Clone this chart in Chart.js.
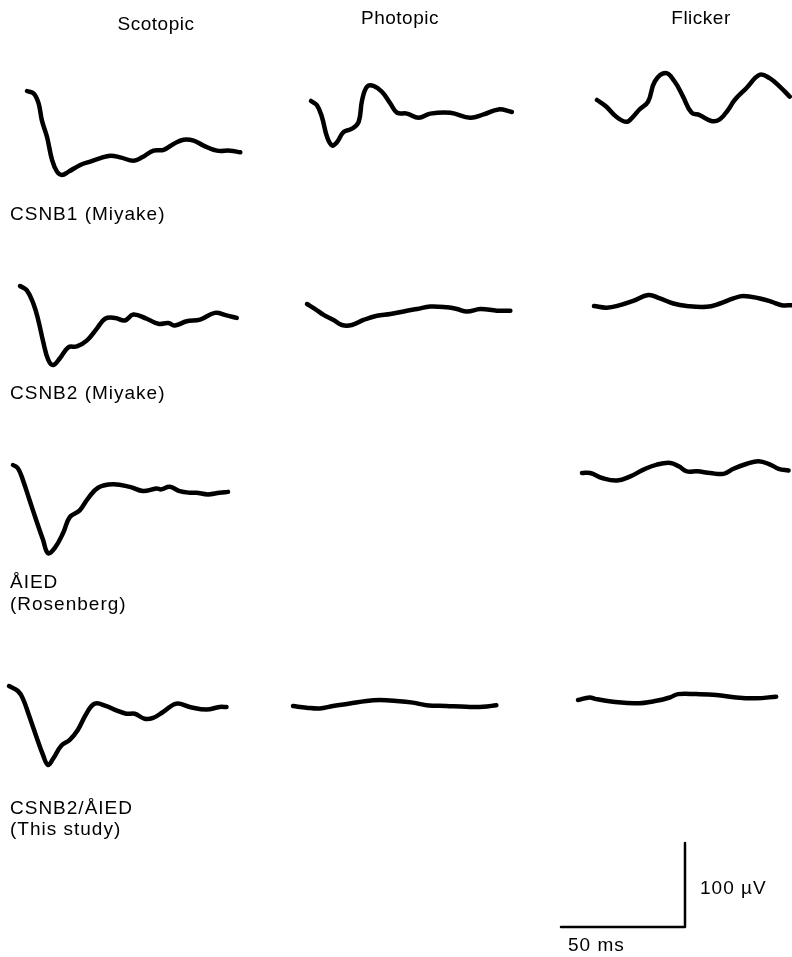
<!DOCTYPE html>
<html>
<head>
<meta charset="utf-8">
<title>ERG traces</title>
<script src="https://cdn.jsdelivr.net/npm/chart.js@4"></script>
<style>
  html, body { margin: 0; padding: 0; background: #fff; overflow: hidden; }
  body { width: 792px; height: 957px; position: relative; font-family: "Liberation Sans", Arial, sans-serif; color: #000; }
  canvas { position: absolute; }
  .lbl { position: absolute; font-size: 19px; line-height: 22px; white-space: nowrap; letter-spacing: 1px; }
  .head { letter-spacing: 0.5px; }
</style>
</head>
<body>
<script>
// === Data (time in ms from trace start, amplitude in µV relative to start) ===
const columnLabels = ['Scotopic', 'Photopic', 'Flicker'];
const rowLabels = ['CSNB1 (Miyake)', 'CSNB2 (Miyake)', 'ÅIED\n(Rosenberg)', 'CSNB2/ÅIED\n(This study)'];

// CSNB1 (Miyake)
const scotCsnb1Ms = [0, 2.7, 4.7, 6.0, 8.1, 10.1, 12.1, 14.1, 16.8, 21.5, 25.5, 29.6, 33.6, 37.6, 43.0, 46.4, 51.0, 55.1, 59.1, 63.1, 67.2, 71.2, 76.6, 81.9, 86.0];
const scotCsnb1Uv = [0, -3, -15, -35, -55, -82, -96, -100, -96, -88, -84, -80, -77, -79, -83, -79, -71, -70, -63, -58, -59, -65, -71, -71, -73];
const photCsnb1Ms = [0, 2.4, 4.4, 6.5, 8.5, 10.5, 13.1, 16.5, 19.2, 20.6, 22.6, 25.2, 28.6, 32.0, 34.7, 38.7, 43.4, 48.1, 56.2, 64.2, 69.6, 75.6, 81.0];
const photCsnb1Uv = [0, -5, -19, -43, -53, -49, -37, -33, -25, 1, 17, 18, 11, -3, -14, -15, -20, -15, -14, -20, -16, -10, -13];
const flickCsnb1Ms = [0, 3.8, 7.8, 11.9, 14.5, 17.2, 20.6, 23.3, 27.7, 31.3, 34.7, 38.1, 41.4, 46.1, 49.5, 52.8, 55.5, 60.2, 65.6, 69.6, 73.7, 77.7];
const flickCsnb1Uv = [0, -8, -20, -26, -20, -11, -2, 22, 32, 22, 4, -15, -18, -25, -23, -12, 0, 14, 30, 26, 16, 4];

// CSNB2 (Miyake)
const scotCsnb2Ms = [0, 2.7, 5.4, 7.4, 9.4, 11.4, 13.4, 16.1, 19.5, 22.9, 26.9, 30.9, 34.3, 38.3, 42.3, 45.7, 51.1, 55.8, 59.8, 62.5, 67.2, 72.6, 78.6, 83.3, 87.4];
const scotCsnb2Uv = [0, -5, -21, -41, -67, -88, -94, -86, -73, -72, -65, -51, -39, -38, -41, -34, -39, -45, -44, -47, -42, -40, -32, -35, -38];
const photCsnb2Ms = [0, 3.3, 6.7, 10.7, 14.1, 18.1, 22.8, 28.2, 33.6, 40.3, 44.4, 49.7, 56.5, 60.5, 64.5, 69.9, 76.6, 82.0];
const photCsnb2Uv = [0, -6, -13, -19, -25, -25, -19, -14, -12, -8, -6, -3, -4, -6, -9, -6, -8, -8];
const flickCsnb2Ms = [0, 5.1, 10.5, 15.8, 21.9, 26.6, 32.0, 37.4, 45.4, 50.8, 56.2, 60.2, 66.9, 71.7, 75.7, 79.7];
const flickCsnb2Uv = [0, -2, 1, 6, 13, 9, 3, 0, -1, 3, 9, 12, 9, 5, 1, 1];

// ÅIED (Rosenberg)
const scotAiedMs = [0, 2.0, 4.0, 6.7, 9.4, 12.1, 14.1, 16.8, 20.2, 22.9, 26.9, 30.2, 34.3, 40.3, 47.1, 52.4, 57.8, 59.8, 63.2, 67.2, 71.2, 73.9, 78.6, 83.3, 86.7];
const scotAiedUv = [0, -4, -18, -42, -66, -89, -105, -99, -81, -62, -54, -40, -27, -23, -26, -31, -28, -29, -26, -31, -33, -33, -35, -33, -32];
const flickAiedMs = [0, 3.3, 8.1, 14.1, 19.5, 24.8, 30.2, 35.6, 39.0, 42.3, 46.4, 51.7, 57.1, 61.1, 66.5, 71.2, 75.9, 79.3, 83.3];
const flickAiedUv = [0, 0, -6, -9, -4, 4, 10, 12, 8, 2, 2, 0, -1, 5, 11, 14, 10, 5, 3];

// CSNB2/ÅIED (This study)
const scotStudyMs = [0, 3.6, 5.6, 8.3, 11.0, 13.7, 15.7, 17.7, 21.1, 24.5, 27.8, 31.2, 34.6, 39.3, 43.3, 47.3, 50.7, 54.7, 58.1, 62.1, 67.5, 72.9, 79.6, 84.9, 87.7];
const scotStudyUv = [0, -6, -15, -37, -60, -82, -94, -87, -71, -64, -52, -33, -21, -24, -29, -33, -33, -39, -38, -31, -21, -25, -28, -25, -25];
const photStudyMs = [0, 5.4, 10.8, 16.1, 22.9, 29.6, 35.0, 41.7, 48.4, 53.8, 61.8, 69.9, 76.6, 82.0];
const photStudyUv = [0, -2, -3, 0, 3, 6, 7, 6, 4, 1, 0, -1, -1, 1];
const flickStudyMs = [0, 4.7, 7.4, 14.1, 23.5, 31.6, 37.0, 40.3, 47.7, 55.8, 63.8, 71.8, 79.9];
const flickStudyUv = [0, 3, 1, -2, -4, -1, 3, 7, 7, 6, 3, 2, 4];

// Calibration bar
const calTimeMs = [0, 50, 50];
const calAmpUv = [0, 0, 100];

// === Scale of the figure ===
const PX_PER_MS = 124 / 50;
const PX_PER_UV = 84 / 100;

// trace start positions on the page
const traces = [
  { ms: scotCsnb1Ms, uv: scotCsnb1Uv, x: 27, y: 91 },
  { ms: photCsnb1Ms, uv: photCsnb1Uv, x: 311, y: 101 },
  { ms: flickCsnb1Ms, uv: flickCsnb1Uv, x: 597, y: 100 },
  { ms: scotCsnb2Ms, uv: scotCsnb2Uv, x: 20, y: 286 },
  { ms: photCsnb2Ms, uv: photCsnb2Uv, x: 307, y: 304 },
  { ms: flickCsnb2Ms, uv: flickCsnb2Uv, x: 594, y: 306 },
  { ms: scotAiedMs, uv: scotAiedUv, x: 13, y: 465 },
  { ms: flickAiedMs, uv: flickAiedUv, x: 582, y: 473 },
  { ms: scotStudyMs, uv: scotStudyUv, x: 9, y: 686 },
  { ms: photStudyMs, uv: photStudyUv, x: 293, y: 706 },
  { ms: flickStudyMs, uv: flickStudyUv, x: 578, y: 700 }
];

function drawTrace(ms, uv, x0, y0, width, tension) {
    const padL = 12, padT = 100, h = 220;
    const left = x0 - padL, top = y0 - padT;
    const w = Math.min(260, 792 - left);
    const cv = document.createElement('canvas');
    cv.width = w; cv.height = h;
    cv.style.left = left + 'px';
    cv.style.top = top + 'px';
    document.body.appendChild(cv);
    new Chart(cv, {
        type: 'line',
        data: {
            datasets: [{
                data: ms.map((t, i) => ({ x: t, y: uv[i] })),
                borderColor: '#000',
                borderWidth: width,
                pointRadius: 0,
                tension: tension,
                borderCapStyle: 'round',
                borderJoinStyle: 'round'
            }]
        },
        options: {
            responsive: false,
            animation: false,
            events: [],
            layout: { padding: 0, autoPadding: false },
            plugins: { legend: { display: false }, tooltip: { enabled: false } },
            scales: {
                x: { type: 'linear', display: false, min: -padL / PX_PER_MS, max: (w - padL) / PX_PER_MS },
                y: { type: 'linear', display: false, min: (padT - h) / PX_PER_UV, max: padT / PX_PER_UV }
            }
        }
    });
}

function addLabel(text, x, y, cls, center) {
    const d = document.createElement('div');
    d.className = 'lbl ' + (cls || '');
    d.textContent = text;
    d.style.top = (y - 11) + 'px';
    d.style.left = x + 'px';
    if (center) d.style.transform = 'translateX(-50%)';
    document.body.appendChild(d);
}

document.addEventListener('DOMContentLoaded', () => {
    traces.forEach(t => drawTrace(t.ms, t.uv, t.x, t.y, 4.5, 0.4));
    drawTrace(calTimeMs, calAmpUv, 561, 927, 2.5, 0);

    // column headers
    addLabel(columnLabels[0], 156, 24, 'head', true);
    addLabel(columnLabels[1], 400, 18, 'head', true);
    addLabel(columnLabels[2], 701, 18, 'head', true);

    // row labels
    const rowY = [[214], [393], [582, 604], [808, 829]];
    rowLabels.forEach((lab, i) => {
        lab.split('\n').forEach((line, j) => addLabel(line, 10, rowY[i][j]));
    });

    // calibration labels
    addLabel('100 \u00b5V', 700, 888);
    addLabel('50 ms', 568, 945);
});
</script>
</body>
</html>
